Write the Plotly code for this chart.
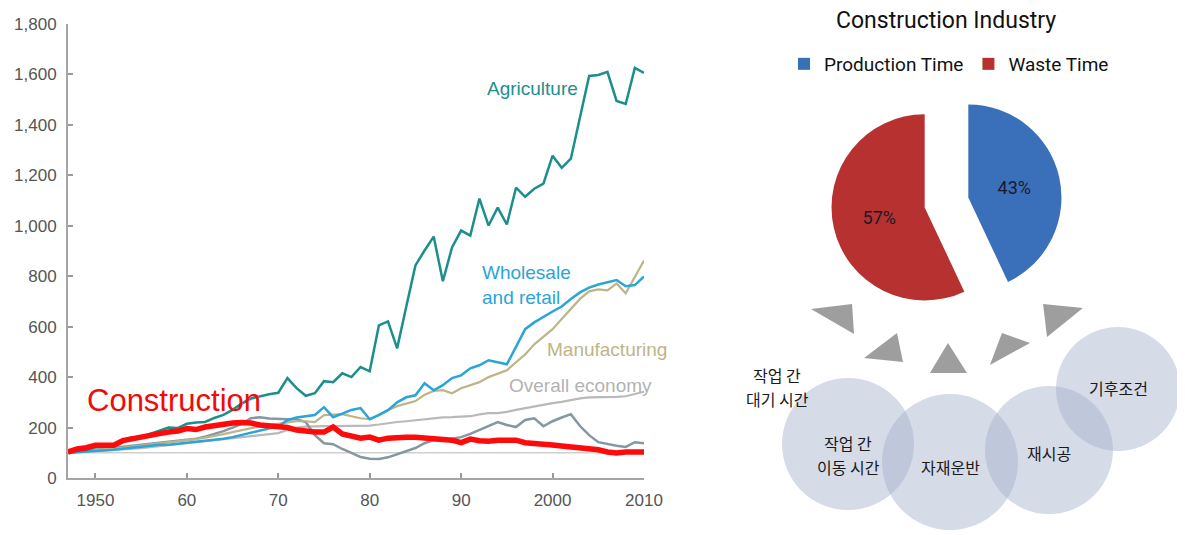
import plotly.graph_objects as go

# the page adds an 8px body margin, so the figure is drawn 8px smaller
PAGE_W, PAGE_H, OFF = 1185, 535, 8
W, H = PAGE_W - OFF, PAGE_H - OFF

# --- line chart data: labour productivity index, 1947 = 100 ---
YEARS = list(range(1947, 2011))

AGRICULTURE = [100, 108, 112, 122, 128, 132, 150, 162, 163, 175,
               188, 200, 198, 215, 220, 222, 238, 250, 270, 295,
               315, 325, 332, 338, 396, 356, 326, 336, 384, 380,
               415, 400, 440, 423, 605, 621, 514, 680, 843, 902,
               957, 780, 914, 981, 961, 1108, 1001, 1072, 1005, 1151,
               1115, 1147, 1167, 1278, 1230, 1266, 1430, 1594, 1598, 1610,
               1495, 1483, 1626, 1606]

WHOLESALE = [100, 102, 104, 106, 110, 112, 116, 120, 124, 128,
             132, 132, 136, 140, 142, 146, 150, 156, 162, 170,
             180, 188, 195, 205, 229, 240, 245, 250, 281, 241,
             255, 270, 277, 233, 249, 269, 300, 320, 328, 376,
             348, 368, 396, 407, 435, 447, 467, 460, 451, 520,
             590, 617, 640, 660, 680, 710, 736, 755, 767, 775,
             785, 760, 765, 799]

MANUFACTURING = [100, 104, 106, 110, 114, 116, 120, 124, 130, 134,
                 138, 140, 145, 150, 154, 160, 166, 174, 182, 190,
                 198, 205, 210, 215, 222, 225, 225, 222, 249, 250,
                 253, 245, 237, 233, 253, 270, 285, 295, 305, 330,
                 345, 348, 336, 356, 368, 380, 400, 415, 427, 459,
                 490, 530, 560, 590, 630, 672, 710, 740, 748, 744,
                 771, 732, 800, 862]

OVERALL = [100, 102, 104, 106, 108, 110, 112, 114, 118, 122,
           126, 128, 132, 136, 140, 144, 148, 152, 156, 162,
           166, 170, 174, 178, 190, 200, 204, 206, 206, 206,
           206, 206, 206, 208, 212, 218, 222, 225, 229, 232,
           236, 240, 241, 243, 245, 252, 257, 257, 262, 270,
           277, 285, 292, 297, 302, 310, 316, 320, 320, 320,
           322, 324, 332, 342]

# unlabeled industry (dark grey line)
OTHER = [100, 104, 108, 110, 114, 118, 122, 126, 130, 134,
         138, 142, 146, 150, 156, 164, 174, 186, 200, 215,
         237, 241, 236, 233, 233, 233, 222, 170, 138, 134,
         115, 100, 83, 76, 75, 82, 95, 105, 119, 138,
         150, 150, 155, 162, 175, 190, 205, 222, 210, 202,
         230, 237, 205, 225, 240, 253, 206, 170, 142, 134,
         128, 123, 142, 138]

CONSTRUCTION = [103, 115, 120, 130, 130, 130, 148, 156, 162, 168,
                176, 182, 186, 196, 192, 202, 208, 212, 218, 220,
                218, 210, 206, 202, 200, 190, 184, 182, 182, 202,
                175, 168, 158, 162, 150, 158, 162, 162, 162, 158,
                158, 155, 150, 140, 154, 148, 146, 150, 150, 150,
                140, 138, 138, 131, 127, 123, 121, 119, 112, 103,
                99, 103, 103, 103]

BASE_INDEX = 100
X_TICKS = [1950, 1960, 1970, 1980, 1990, 2000, 2010]
X_TICK_TEXT = ["1950", "60", "70", "80", "90", "2000", "2010"]
Y_TICKS = [0, 200, 400, 600, 800, 1000, 1200, 1400, 1600, 1800]

# --- pie data ---
PIE_TITLE = "Construction Industry"
PIE_LABELS = ["Production Time", "Waste Time"]
PIE_VALUES = [43, 57]

# --- waste-time causes (diagram bubbles) ---
CAUSES = ["작업 간<br>대기 시간", "작업 간<br>이동 시간", "자재운반", "재시공", "기후조건"]


def px(x):
    return (x - OFF) / W


def py(y):
    return 1 - (y - OFF) / H


fig = go.Figure()

fig.add_hline(y=BASE_INDEX, line=dict(color="#cfcfcf", width=1.5), layer="below")

series = [
    (OVERALL, "Overall economy", "#b9b9b9", 2.2),
    (OTHER, "Other", "#8597a0", 2.5),
    (MANUFACTURING, "Manufacturing", "#bdb587", 2.2),
    (WHOLESALE, "Wholesale and retail", "#2aa5d8", 2.5),
    (AGRICULTURE, "Agriculture", "#1c8f8c", 2.5),
    (CONSTRUCTION, "Construction", "#ff0a0a", 5.5),
]
for vals, name, color, width in series:
    fig.add_trace(go.Scatter(
        x=YEARS, y=vals, mode="lines", name=name,
        line=dict(color=color, width=width),
        showlegend=False, hoverinfo="skip"
    ))

fig.add_trace(go.Pie(
    labels=PIE_LABELS, values=PIE_VALUES,
    marker=dict(colors=["#3a6fba", "#b73131"], line=dict(width=0)),
    sort=False, direction="clockwise", rotation=0,
    pull=[0.24, 0.24],
    textinfo="percent", textposition="inside",
    insidetextfont=dict(color="#1a1a2a", size=18, family="Roboto"),
    domain=dict(x=[px(831), px(1062)], y=[py(318), py(87)]),
    showlegend=True
))

lbl_font = "Liberation Sans, Arial, sans-serif"
annotations = [
    dict(x=1948.9, y=309, text="Construction",
         font=dict(size=31, color="#f00a0a", family=lbl_font)),
    dict(x=1992.6, y=1543, text="Agriculture",
         font=dict(size=19, color="#1c8f8c", family=lbl_font)),
    dict(x=1992.1, y=767, text="Wholesale<br>and retail", align="left",
         font=dict(size=19, color="#2aa5d8", family=lbl_font)),
    dict(x=1999.2, y=510, text="Manufacturing",
         font=dict(size=19, color="#bdb587", family=lbl_font)),
    dict(x=1995.0, y=368, text="Overall economy",
         font=dict(size=19, color="#b3b3b3", family=lbl_font)),
]
for a in annotations:
    a.update(xref="x", yref="y", showarrow=False, xanchor="left", yanchor="middle")

annotations.append(dict(
    x=px(946), y=py(20), xref="paper", yref="paper", text=PIE_TITLE,
    xanchor="center", yanchor="middle",
    showarrow=False, font=dict(size=23, color="#111", family="Roboto")
))

# bubble layout (px): centre x, centre y, radius, text y
bubble_pos = [(777, 396, 64, 387), (848, 444, 66, 455), (950, 462, 68, 467),
              (1049, 450, 64, 453), (1118, 389, 62, 388)]
LINE_GAP = 24
shapes = []
for (cx, cy, r, ty), label in zip(bubble_pos, CAUSES):
    shapes.append(dict(
        type="circle", xref="paper", yref="paper",
        x0=px(cx - r), x1=px(cx + r), y0=py(cy + r), y1=py(cy - r),
        fillcolor="rgba(168,180,204,0.48)", line=dict(width=0), layer="below"
    ))
    # one annotation per line keeps the CJK line boxes from overlapping
    lines = label.split("<br>")
    top = ty - LINE_GAP * (len(lines) - 1) / 2
    for i, line in enumerate(lines):
        annotations.append(dict(
            x=px(cx), y=py(top + i * LINE_GAP), xref="paper", yref="paper",
            text=line, xanchor="center", yanchor="middle", showarrow=False,
            font=dict(size=16, color="#1a1a1a", family="Noto Sans CJK KR")
        ))

# grey arrows pointing toward the pie
arrows = [
    [(811, 309), (852, 304), (854, 334)],
    [(864, 358), (897, 333), (903, 362)],
    [(930, 373), (948, 343), (967, 373)],
    [(990, 365), (1002, 333), (1030, 343)],
    [(1043, 304), (1083, 308), (1047, 337)],
]
for tri in arrows:
    path = "M " + " L ".join(f"{px(x):.4f},{py(y):.4f}" for x, y in tri) + " Z"
    shapes.append(dict(type="path", xref="paper", yref="paper", path=path,
                       fillcolor="rgba(125,125,125,0.75)", line=dict(width=0)))

axis_common = dict(
    ticks="inside", ticklen=5, tickcolor="#9a9a9a", tickwidth=1.5,
    showline=True, linecolor="#a5a5a5", linewidth=2,
    showgrid=False, zeroline=False, automargin=False,
    tickfont=dict(size=17, color="#555"), ticklabelstandoff=6
)

fig.update_layout(
    width=W, height=H,
    margin=dict(l=0, r=0, t=0, b=0, autoexpand=False),
    paper_bgcolor="white", plot_bgcolor="white",
    font=dict(family=lbl_font, color="#555"),
    xaxis=dict(domain=[px(68), px(644)], range=[1947, 2010],
               tickvals=X_TICKS, ticktext=X_TICK_TEXT, **axis_common),
    yaxis=dict(domain=[py(478), py(24)], range=[0, 1800],
               tickvals=Y_TICKS, tickformat=",", **axis_common),
    legend=dict(
        orientation="h", x=px(784), y=py(64), xanchor="left", yanchor="middle",
        font=dict(size=19, color="#111", family="Roboto"),
        itemwidth=30, tracegroupgap=0
    ),
    annotations=annotations,
    shapes=shapes,
)

fig.write_html("out.html")
